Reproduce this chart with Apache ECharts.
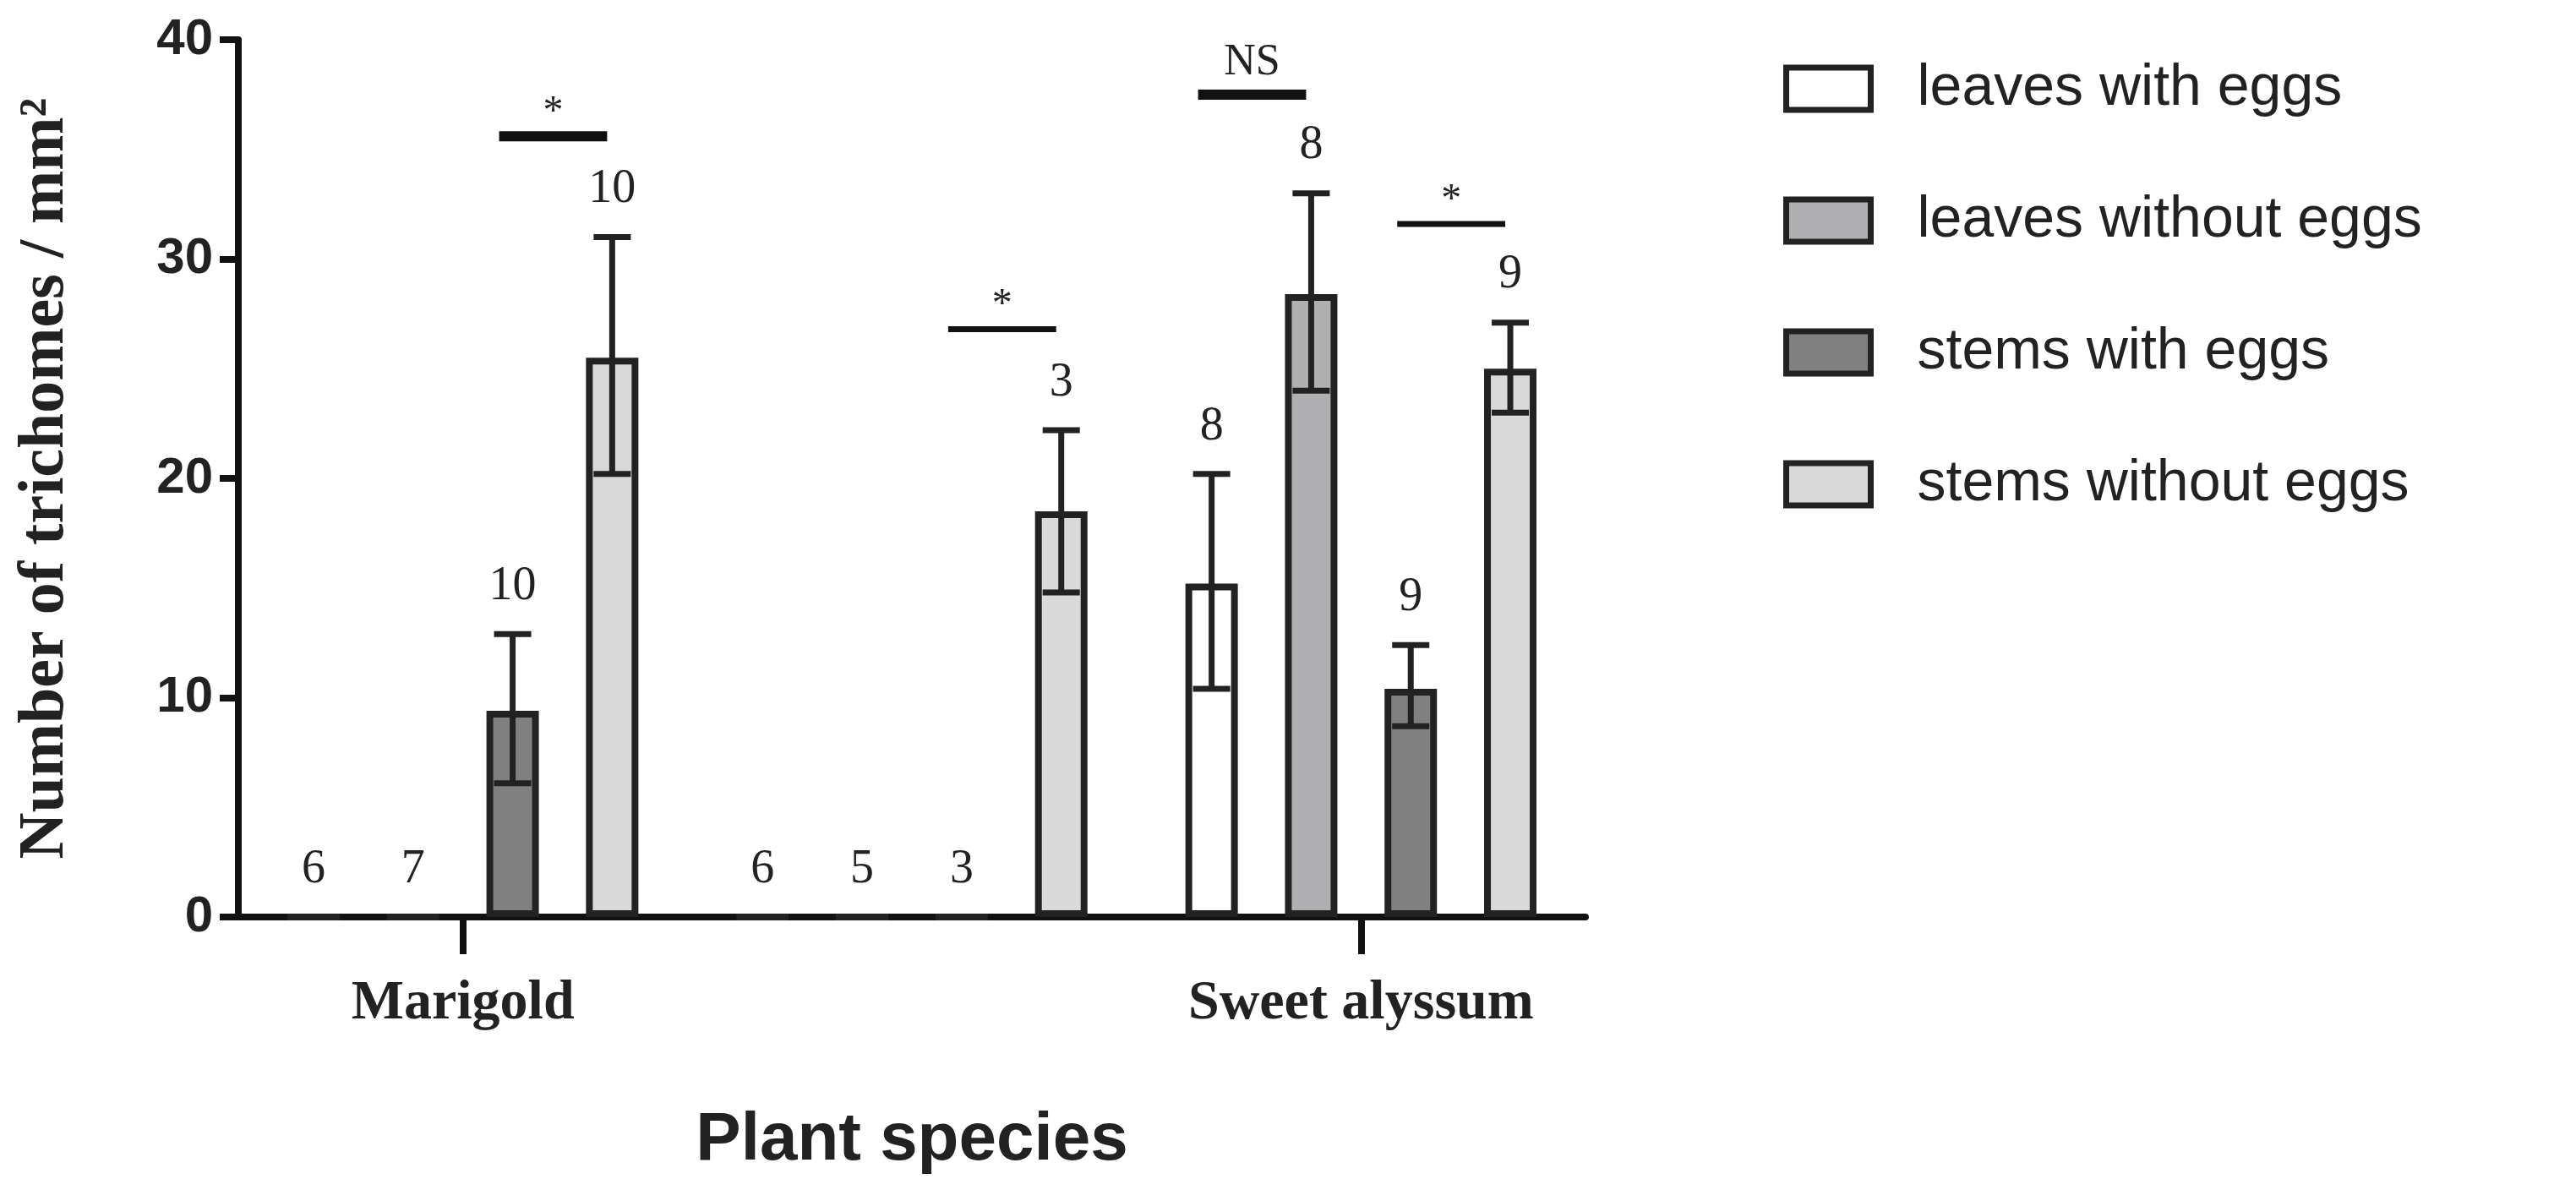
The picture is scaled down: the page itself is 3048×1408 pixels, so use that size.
<!DOCTYPE html>
<html>
<head>
<meta charset="utf-8">
<script src="https://cdn.jsdelivr.net/npm/echarts@6/dist/echarts.min.js"></script>
<style>html,body{margin:0;padding:0;background:#fff}#chart{width:3048px;height:1408px}</style>
</head>
<body>
<div id="chart"></div>
<script>
const categories = ['Marigold', 'Alfalfa', 'Sweet alyssum']
const seriesNames = ['leaves with eggs', 'leaves without eggs', 'stems with eggs', 'stems without eggs']
const colors = ['#ffffff', '#b0b0b2', '#808080', '#d9d9d9']
const means = [
  [0, 0, 15.2],
  [0, 0, 28.4],
  [9.4, 0, 10.4],
  [25.5, 18.5, 25.0]
]
const errLow = [
  [0, 0, 10.4],
  [0, 0, 24.0],
  [6.1, 0, 8.7],
  [20.2, 14.8, 23.0]
]
const errHigh = [
  [0, 0, 20.2],
  [0, 0, 33.0],
  [12.9, 0, 12.4],
  [31.0, 22.2, 27.1]
]
const counts = [
  [6, 6, 8],
  [7, 5, 8],
  [10, 3, 9],
  [10, 3, 9]
]
// [category, first series, second series, y, text, thick]
const significance = [
  [0, 2, 3, 35.6, '*', true],
  [1, 2, 3, 26.8, '*', false],
  [2, 0, 1, 37.5, 'NS', true],
  [2, 2, 3, 31.6, '*', false]
]

const barWidth = 62
const step = barWidth * 1.9
const offsetOf = (s) => (s - 1.5) * step
const serif = '"Liberation Serif", "DejaVu Serif", serif'
const sans = '"Liberation Sans", Arial, sans-serif'

const chart = echarts.init(document.getElementById('chart'))

const barSeries = seriesNames.map((name, s) => ({
  name,
  type: 'bar',
  data: means[s],
  barWidth,
  barGap: '90%',
  itemStyle: { color: colors[s], borderColor: '#222', borderWidth: 8 }
}))

const errorSeries = seriesNames.map((name, s) => ({
  type: 'custom',
  data: categories.map((c, i) => [i, errLow[s][i], errHigh[s][i], counts[s][i]]),
  z: 5,
  silent: true,
  renderItem: (params, api) => {
    const i = api.value(0)
    const lo = api.coord([i, api.value(1)])
    const hi = api.coord([i, api.value(2)])
    const x = lo[0] + offsetOf(s)
    const cap = 22
    const children = []
    if (api.value(2) > api.value(1)) {
      const st = { stroke: '#222', lineWidth: 7 }
      children.push(
        { type: 'line', shape: { x1: x, y1: lo[1], x2: x, y2: hi[1] }, style: st },
        { type: 'line', shape: { x1: x - cap, y1: lo[1], x2: x + cap, y2: lo[1] }, style: st },
        { type: 'line', shape: { x1: x - cap, y1: hi[1], x2: x + cap, y2: hi[1] }, style: st }
      )
    }
    children.push({
      type: 'text', x, y: hi[1] - 56,
      style: { text: String(api.value(3)), fill: '#222', font: '56px ' + serif, align: 'center', verticalAlign: 'middle' }
    })
    return { type: 'group', children }
  }
}))

const sigSeries = {
  type: 'custom',
  data: significance.map(d => [d[0], d[3], d[1], d[2], d[5] ? 1 : 0]),
  z: 5,
  silent: true,
  renderItem: (params, api) => {
    const p = api.coord([api.value(0), api.value(1)])
    const x1 = p[0] + offsetOf(api.value(2)) - 16
    const x2 = p[0] + offsetOf(api.value(3)) - 6
    const text = significance[params.dataIndex][4]
    return {
      type: 'group',
      children: [
        { type: 'line', shape: { x1, y1: p[1], x2, y2: p[1] }, style: { stroke: '#111', lineWidth: api.value(4) ? 12 : 7 } },
        {
          type: 'text', x: (x1 + x2) / 2, y: p[1] - (text === 'NS' ? 12 : 4),
          style: { text, fill: '#222', font: (text === 'NS' ? '52px ' : '48px ') + serif, align: 'center', verticalAlign: 'bottom' }
        }
      ]
    }
  }
}

chart.setOption({
  animation: false,
  legend: {
    orient: 'vertical',
    left: 2105,
    top: 66,
    itemWidth: 100,
    itemHeight: 50,
    itemGap: 88,
    icon: 'rect',
    data: seriesNames,
    itemStyle: { borderColor: '#222', borderWidth: 7 },
    textStyle: { fontFamily: sans, fontSize: 68, color: '#222', padding: [0, 0, 0, 50] }
  },
  grid: { left: 282, width: 1594, top: 47, bottom: 323 },
  xAxis: {
    type: 'category',
    data: categories,
    name: 'Plant species',
    nameLocation: 'middle',
    nameGap: 225,
    nameTextStyle: { fontFamily: sans, fontSize: 80, fontWeight: 'bold', color: '#222' },
    axisLine: { lineStyle: { color: '#111', width: 8 } },
    axisTick: { show: true, alignWithLabel: true, length: 44, lineStyle: { color: '#111', width: 8 } },
    axisLabel: { margin: 70, fontFamily: serif, fontWeight: 'bold', fontSize: 66, color: '#222' }
  },
  yAxis: {
    type: 'value',
    min: 0,
    max: 40,
    interval: 10,
    name: 'Number of trichomes / mm²',
    nameLocation: 'middle',
    nameGap: 190,
    nameTextStyle: { fontFamily: serif, fontSize: 76, fontWeight: 'bold', color: '#222' },
    splitLine: { show: false },
    axisLine: { show: true, lineStyle: { color: '#111', width: 8 } },
    axisTick: { show: true, length: 22, lineStyle: { color: '#111', width: 8 } },
    axisLabel: { margin: 30, fontFamily: sans, fontWeight: 'bold', fontSize: 60, color: '#222' }
  },
  series: [...barSeries, ...errorSeries, sigSeries]
})
</script>
</body>
</html>
